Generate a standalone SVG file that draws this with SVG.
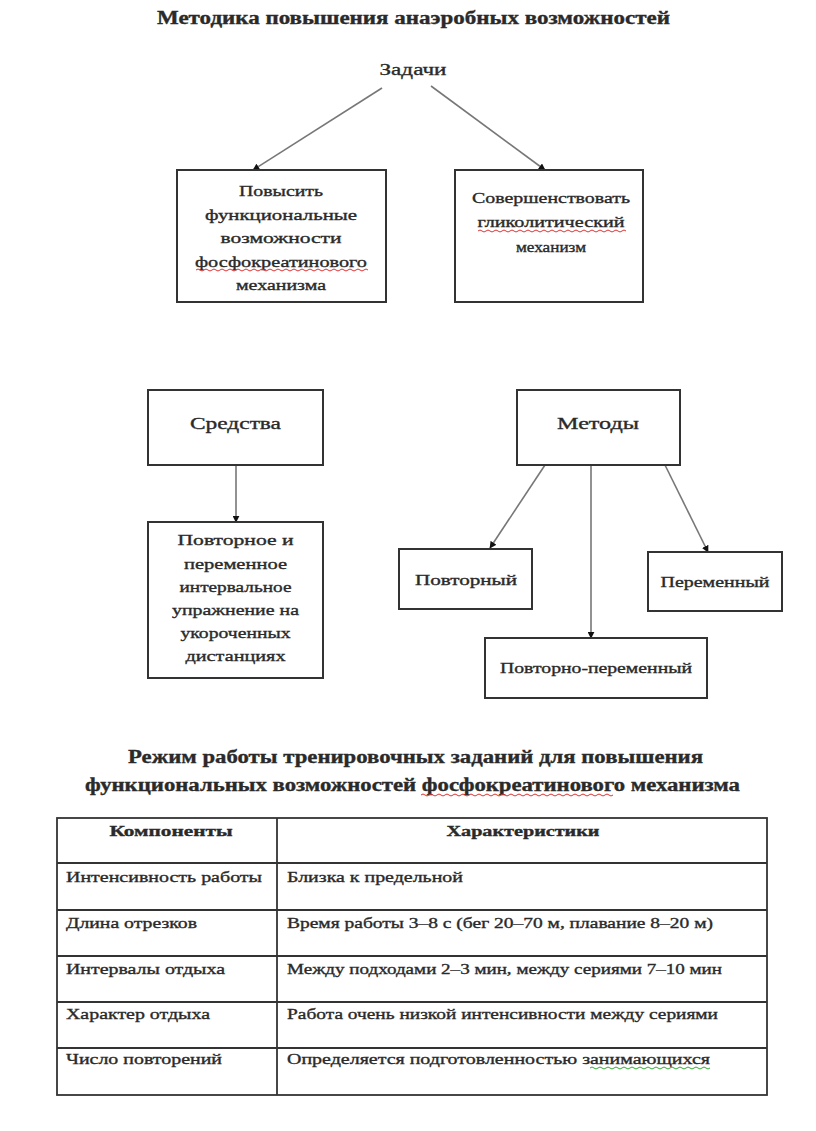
<svg xmlns="http://www.w3.org/2000/svg" width="816" height="1131" viewBox="0 0 816 1131" font-family="'Liberation Serif', 'Times New Roman', serif">
<defs>
<marker id="ah" viewBox="0 0 10 10" refX="9" refY="5" markerWidth="7" markerHeight="7" markerUnits="userSpaceOnUse" orient="auto"><path d="M0,0 L10,5 L0,10 z" fill="#111"/></marker>
</defs>
<style>
text{font-family:"Liberation Serif","Times New Roman",serif;fill:#2a2a2a;stroke:#2a2a2a;stroke-width:0.35;}
.t{font-size:18px;font-weight:bold;}
.n{font-size:15px;text-anchor:middle;}
.b{font-size:17px;text-anchor:middle;}
.box{fill:#fff;stroke:#333;stroke-width:2;}
.con{stroke:#777;stroke-width:1.6;fill:none;marker-end:url(#ah);}
.c{font-size:15px;}
.h{font-size:15px;font-weight:bold;text-anchor:middle;}
.grid{stroke:#333;stroke-width:1.8;fill:none;}
.wr{stroke:#d33;stroke-width:1;fill:none;}
.wg{stroke:#3a3;stroke-width:1;fill:none;}
</style>
<rect width="816" height="1131" fill="#fff"/>
<text class="t" x="157" y="24" textLength="513" lengthAdjust="spacingAndGlyphs">Методика повышения анаэробных возможностей</text>

<g id="connectors">
<line class="con" x1="382" y1="88" x2="253" y2="170"/>
<line class="con" x1="431" y1="86" x2="545" y2="170"/>
<line class="con" x1="236" y1="465" x2="236" y2="522"/>
<line class="con" x1="545" y1="465" x2="490" y2="548"/>
<line class="con" x1="591" y1="465" x2="591" y2="638"/>
<line class="con" x1="665" y1="465" x2="708" y2="552"/>
</g>

<g id="zadachi">
<text class="b" x="413" y="75" textLength="67" lengthAdjust="spacingAndGlyphs">Задачи</text>
</g>

<g id="task1">
<rect class="box" x="177" y="170" width="209" height="132"/>
<text class="n" x="281" y="196" textLength="84" lengthAdjust="spacingAndGlyphs">Повысить</text>
<text class="n" x="281" y="219.5" textLength="152" lengthAdjust="spacingAndGlyphs">функциональные</text>
<text class="n" x="281" y="243" textLength="121" lengthAdjust="spacingAndGlyphs">возможности</text>
<text class="n" x="281" y="266.5" textLength="172" lengthAdjust="spacingAndGlyphs">фосфокреатинового</text>
<text class="n" x="281" y="290" textLength="90" lengthAdjust="spacingAndGlyphs">механизма</text>
<path class="wr" d="M196,270 q2,-2 4,0 t4,0 t4,0 t4,0 t4,0 t4,0 t4,0 t4,0 t4,0 t4,0 t4,0 t4,0 t4,0 t4,0 t4,0 t4,0 t4,0 t4,0 t4,0 t4,0 t4,0 t4,0 t4,0 t4,0 t4,0 t4,0 t4,0 t4,0 t4,0 t4,0 t4,0 t4,0 t4,0 t4,0 t4,0 t4,0 t4,0 t4,0 t4,0 t4,0 t4,0 t4,0 t4,0"/>
</g>

<g id="task2">
<rect class="box" x="455" y="170" width="188" height="132"/>
<text class="n" x="551" y="203" textLength="158" lengthAdjust="spacingAndGlyphs">Совершенствовать</text>
<text class="n" x="551" y="227" textLength="147" lengthAdjust="spacingAndGlyphs">гликолитический</text>
<text class="n" x="551" y="252" textLength="70" lengthAdjust="spacingAndGlyphs">механизм</text>
<path class="wr" d="M478,231 q2,-2 4,0 t4,0 t4,0 t4,0 t4,0 t4,0 t4,0 t4,0 t4,0 t4,0 t4,0 t4,0 t4,0 t4,0 t4,0 t4,0 t4,0 t4,0 t4,0 t4,0 t4,0 t4,0 t4,0 t4,0 t4,0 t4,0 t4,0 t4,0 t4,0 t4,0 t4,0 t4,0 t4,0 t4,0 t4,0 t4,0 t4,0"/>
</g>

<g id="sredstva">
<rect class="box" x="148" y="390" width="175" height="75"/>
<text class="b" x="235.5" y="429" textLength="91" lengthAdjust="spacingAndGlyphs">Средства</text>
</g>

<g id="uprazhnenie">
<rect class="box" x="148" y="522" width="175" height="156"/>
<text class="n" x="235.5" y="545" textLength="116" lengthAdjust="spacingAndGlyphs">Повторное и</text>
<text class="n" x="235.5" y="569" textLength="103" lengthAdjust="spacingAndGlyphs">переменное</text>
<text class="n" x="235.5" y="592" textLength="112" lengthAdjust="spacingAndGlyphs">интервальное</text>
<text class="n" x="235.5" y="615" textLength="127" lengthAdjust="spacingAndGlyphs">упражнение на</text>
<text class="n" x="235.5" y="638" textLength="110" lengthAdjust="spacingAndGlyphs">укороченных</text>
<text class="n" x="235.5" y="661" textLength="100" lengthAdjust="spacingAndGlyphs">дистанциях</text>
</g>

<g id="metody">
<rect class="box" x="517" y="390" width="163" height="75"/>
<text class="b" x="598" y="429" textLength="82" lengthAdjust="spacingAndGlyphs">Методы</text>
</g>

<g id="povtorny">
<rect class="box" x="399" y="549" width="133" height="60"/>
<text class="n" x="466" y="585" textLength="102" lengthAdjust="spacingAndGlyphs">Повторный</text>
</g>

<g id="peremenny">
<rect class="box" x="648" y="552" width="134" height="59"/>
<text class="n" x="715" y="587" textLength="109" lengthAdjust="spacingAndGlyphs">Переменный</text>
</g>

<g id="povtorno-peremenny">
<rect class="box" x="485" y="638" width="222" height="60"/>
<text class="n" x="596" y="673" textLength="192" lengthAdjust="spacingAndGlyphs">Повторно-переменный</text>
</g>

<g id="table-title">
<text class="t" x="128" y="763" textLength="575" lengthAdjust="spacingAndGlyphs">Режим работы тренировочных заданий для повышения</text>
<text class="t" x="85" y="791" textLength="655" lengthAdjust="spacingAndGlyphs">функциональных возможностей фосфокреатинового механизма</text>
<path class="wr" d="M421,795 q2,-2 4,0 t4,0 t4,0 t4,0 t4,0 t4,0 t4,0 t4,0 t4,0 t4,0 t4,0 t4,0 t4,0 t4,0 t4,0 t4,0 t4,0 t4,0 t4,0 t4,0 t4,0 t4,0 t4,0 t4,0 t4,0 t4,0 t4,0 t4,0 t4,0 t4,0 t4,0 t4,0 t4,0 t4,0 t4,0 t4,0 t4,0 t4,0 t4,0 t4,0 t4,0 t4,0 t4,0 t4,0 t4,0 t4,0 t4,0 t4,0"/>
</g>

<g id="table">
<rect class="grid" x="57" y="818" width="710" height="277" stroke-width="2.2"/>
<line class="grid" x1="277" y1="818" x2="277" y2="1095"/>
<line class="grid" x1="57" y1="863" x2="767" y2="863"/>
<line class="grid" x1="57" y1="910" x2="767" y2="910"/>
<line class="grid" x1="57" y1="956" x2="767" y2="956"/>
<line class="grid" x1="57" y1="1002" x2="767" y2="1002"/>
<line class="grid" x1="57" y1="1048" x2="767" y2="1048"/>
<text class="h" x="171" y="836" textLength="123" lengthAdjust="spacingAndGlyphs">Компоненты</text>
<text class="h" x="523" y="836" textLength="153" lengthAdjust="spacingAndGlyphs">Характеристики</text>
<text class="c" x="66" y="882" textLength="196" lengthAdjust="spacingAndGlyphs">Интенсивность работы</text>
<text class="c" x="287" y="882" textLength="176" lengthAdjust="spacingAndGlyphs">Близка к предельной</text>
<text class="c" x="66" y="928" textLength="131" lengthAdjust="spacingAndGlyphs">Длина отрезков</text>
<text class="c" x="287" y="928" textLength="426" lengthAdjust="spacingAndGlyphs">Время работы 3–8 с (бег 20–70 м, плавание 8–20 м)</text>
<text class="c" x="66" y="974" textLength="159" lengthAdjust="spacingAndGlyphs">Интервалы отдыха</text>
<text class="c" x="287" y="974" textLength="435" lengthAdjust="spacingAndGlyphs">Между подходами 2–3 мин, между сериями 7–10 мин</text>
<text class="c" x="66" y="1019" textLength="144" lengthAdjust="spacingAndGlyphs">Характер отдыха</text>
<text class="c" x="287" y="1019" textLength="431" lengthAdjust="spacingAndGlyphs">Работа очень низкой интенсивности между сериями</text>
<text class="c" x="66" y="1064" textLength="156" lengthAdjust="spacingAndGlyphs">Число повторений</text>
<text class="c" x="287" y="1064" textLength="423" lengthAdjust="spacingAndGlyphs">Определяется подготовленностью занимающихся</text>
<path class="wg" d="M590,1068 q2,-2 4,0 t4,0 t4,0 t4,0 t4,0 t4,0 t4,0 t4,0 t4,0 t4,0 t4,0 t4,0 t4,0 t4,0 t4,0 t4,0 t4,0 t4,0 t4,0 t4,0 t4,0 t4,0 t4,0 t4,0 t4,0 t4,0 t4,0 t4,0 t4,0 t4,0"/>
</g>
</svg>
